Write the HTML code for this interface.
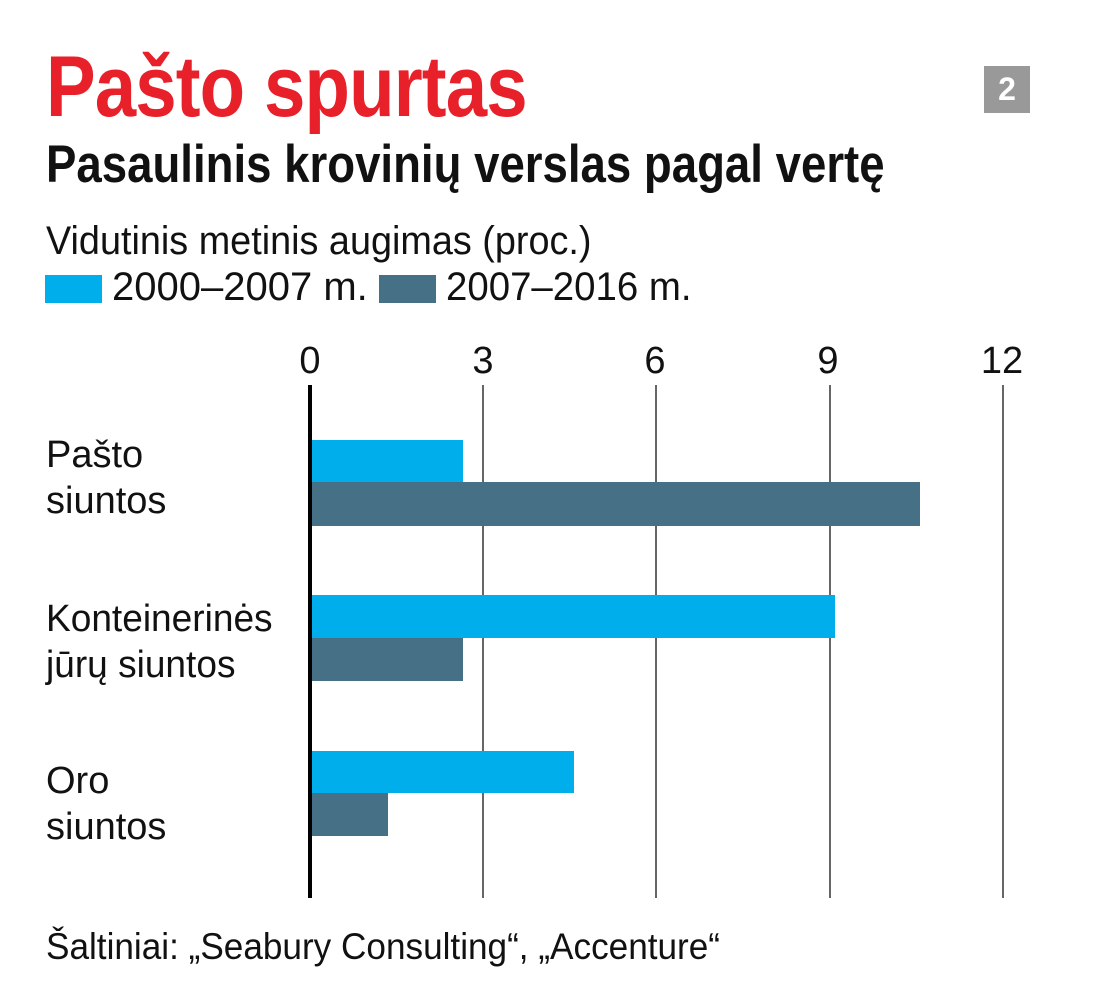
<!DOCTYPE html>
<html><head><meta charset="utf-8"><style>
body{margin:0;background:#fff;}
.c{position:relative;width:1100px;height:1003px;overflow:hidden;font-family:"Liberation Sans Narrow","Liberation Sans",sans-serif;color:#111;}
.t{position:absolute;white-space:nowrap;line-height:1;transform-origin:0 0;}
.g{position:absolute;top:385px;height:513px;width:2px;background:#666;}
.b{position:absolute;left:312px;}
.l{background:#00aeeb;}
.d{background:#467086;}
.tick{position:absolute;top:342px;font-size:38px;width:80px;text-align:center;line-height:1;}
</style></head><body><div class="c">
<div class="t" style="left:46px;top:44px;font-size:86px;font-weight:bold;color:#e8202a;letter-spacing:-1px;transform:scaleX(0.865);">Pašto spurtas</div>
<div style="position:absolute;left:984px;top:66px;width:46px;height:47px;background:#999;color:#fff;font-weight:bold;font-size:32px;text-align:center;line-height:47px;">2</div>
<div class="t" style="left:46px;top:138px;font-size:53px;font-weight:bold;transform:scaleX(0.86);">Pasaulinis krovinių verslas pagal vertę</div>
<div class="t" style="left:46px;top:221px;font-size:40px;transform:scaleX(0.945);">Vidutinis metinis augimas (proc.)</div>
<div style="position:absolute;left:45px;top:275px;width:57px;height:28px;background:#00aeeb;"></div>
<div class="t" style="left:112px;top:267px;font-size:40px;">2000–2007 m.</div>
<div style="position:absolute;left:379px;top:275px;width:57px;height:28px;background:#467086;"></div>
<div class="t" style="left:446px;top:267px;font-size:40px;transform:scaleX(0.96);">2007–2016 m.</div>
<div class="tick" style="left:270px;">0</div>
<div class="tick" style="left:443px;">3</div>
<div class="tick" style="left:615px;">6</div>
<div class="tick" style="left:788px;">9</div>
<div class="tick" style="left:962px;">12</div>
<div class="g" style="left:482px;"></div>
<div class="g" style="left:655px;"></div>
<div class="g" style="left:829px;"></div>
<div class="g" style="left:1002px;"></div>
<div style="position:absolute;left:308px;top:385px;width:4px;height:513px;background:#000;"></div>
<div class="b l" style="top:440px;height:42px;width:151px;"></div>
<div class="b d" style="top:482px;height:44px;width:608px;"></div>
<div class="b l" style="top:595px;height:43px;width:523px;"></div>
<div class="b d" style="top:638px;height:43px;width:151px;"></div>
<div class="b l" style="top:751px;height:42px;width:262px;"></div>
<div class="b d" style="top:793px;height:43px;width:76px;"></div>
<div class="t" style="left:46px;top:432px;font-size:38px;line-height:46px;">Pašto<br>siuntos</div>
<div class="t" style="left:46px;top:596px;font-size:38px;line-height:46px;transform:scaleX(0.975);">Konteinerinės<br>jūrų siuntos</div>
<div class="t" style="left:46px;top:758px;font-size:38px;line-height:46px;">Oro<br>siuntos</div>
<div class="t" style="left:46px;top:928px;font-size:37px;transform:scaleX(0.95);">Šaltiniai: „Seabury Consulting“, „Accenture“</div>
</div></body></html>
